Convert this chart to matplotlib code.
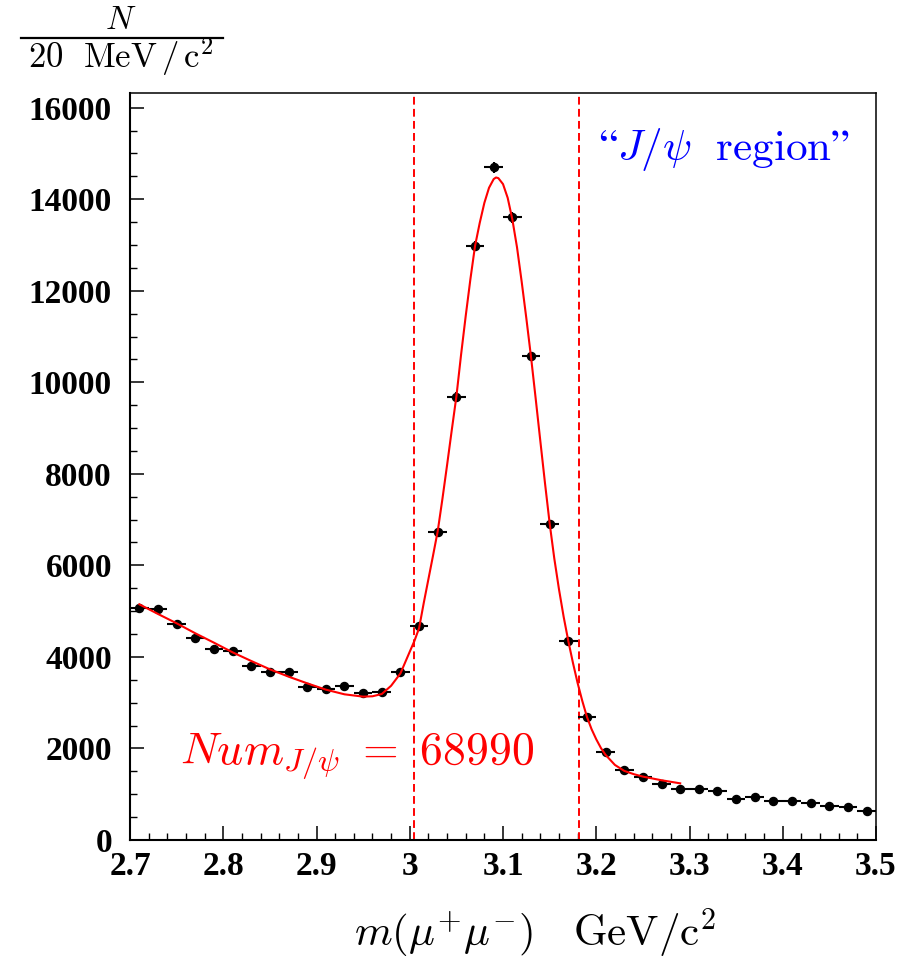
# plot.py: J/psi 不変質量分布とフィット曲線
import numpy as np
import matplotlib
matplotlib.use('Agg')
import matplotlib.pyplot as plt
from matplotlib.lines import Line2D

plt.rcParams['mathtext.fontset'] = 'cm'

# ビン中心 (20 MeV/c^2)
mass = [2.71, 2.73, 2.75, 2.77, 2.79, 2.81, 2.83, 2.85, 2.87, 2.89,
        2.91, 2.93, 2.95, 2.97, 2.99, 3.01, 3.03, 3.05, 3.07, 3.09,
        3.11, 3.13, 3.15, 3.17, 3.19, 3.21, 3.23, 3.25, 3.27, 3.29,
        3.31, 3.33, 3.35, 3.37, 3.39, 3.41, 3.43, 3.45, 3.47, 3.49]
# 各ビンのイベント数
counts = [5076, 5047, 4719, 4413, 4172, 4129, 3793, 3670, 3670, 3350,
          3306, 3372, 3219, 3234, 3679, 4675, 6729, 9686, 12978, 14693,
          13603, 10568, 6911, 4348, 2687, 1930, 1530, 1384, 1223, 1114,
          1114, 1078, 903, 940, 859, 859, 808, 743, 721, 634]

# フィット曲線 (図から読み取った点)
fit_x = [2.71, 2.73, 2.75, 2.77, 2.79, 2.81, 2.83, 2.85, 2.87, 2.89,
         2.91, 2.93, 2.95, 2.96, 2.97, 2.98, 2.99, 3.00, 3.005, 3.01,
         3.015, 3.02, 3.025, 3.03, 3.035, 3.04, 3.045, 3.05, 3.055, 3.06,
         3.065, 3.07, 3.075, 3.08, 3.085, 3.09, 3.0925, 3.095, 3.10, 3.105,
         3.11, 3.115, 3.12, 3.125, 3.13, 3.135, 3.14, 3.145, 3.15, 3.155,
         3.16, 3.165, 3.17, 3.175, 3.18, 3.185, 3.19, 3.195, 3.20, 3.205,
         3.21, 3.22, 3.23, 3.24, 3.25, 3.27, 3.29]
fit_y = [5149, 4938, 4734, 4516, 4311, 4100, 3911, 3729, 3569, 3423,
         3285, 3183, 3132, 3140, 3190, 3370, 3640, 4115, 4350, 4630,
         5180, 5700, 6220, 6750, 7450, 8190, 8950, 9690, 10600, 11450,
         12250, 12980, 13480, 13920, 14250, 14440, 14475, 14460, 14330, 14030,
         13560, 12950, 12200, 11400, 10560, 9650, 8720, 7800, 6920, 6150,
         5480, 4880, 4350, 3870, 3430, 3040, 2690, 2420, 2200, 2010,
         1860, 1640, 1510, 1440, 1385, 1305, 1238]

# J/psi 領域の境界
region_lo = 3.004
region_hi = 3.181

figure = plt.figure(figsize=(9.19, 9.6), dpi=100)
axis = figure.add_axes([0.1415, 0.125, 0.8117, 0.7781])

# データ点 (x誤差 = ビン幅/2, y誤差 = sqrt(N))
axis.errorbar(mass, counts, xerr=0.01, yerr=np.sqrt(counts), fmt='o',
              color='black', markersize=5.8, elinewidth=1.5, capsize=0, zorder=3)

# フィット曲線
axis.plot(fit_x, fit_y, color='red', linewidth=1.5, zorder=4)

# 領域の縦線
for xv in (region_lo, region_hi):
    axis.axvline(xv, color='red', linestyle=(0, (4, 2.2)), linewidth=1.4, zorder=2)

axis.set_xlim(2.7, 3.5)
axis.set_ylim(0, 16320)

# 目盛り
axis.set_xticks(np.round(np.arange(2.7, 3.51, 0.1), 1))
axis.set_xticklabels(['2.7', '2.8', '2.9', '3', '3.1', '3.2', '3.3', '3.4', '3.5'])
axis.set_xticks(np.arange(2.7, 3.501, 0.02), minor=True)
axis.set_yticks(np.arange(0, 16001, 2000))
axis.set_yticks(np.arange(0, 16001, 500), minor=True)
axis.tick_params(which='both', direction='in', top=False, right=False)
axis.tick_params(which='major', length=10, width=1.1)
axis.tick_params(which='minor', length=5, width=1.0)
axis.tick_params(axis='y', pad=13)
axis.tick_params(axis='x', pad=8)
for lab in axis.get_xticklabels() + axis.get_yticklabels():
    lab.set_fontfamily('Liberation Serif')
    lab.set_fontweight('bold')
    lab.set_fontsize(24)

for side in ['left', 'bottom']:
    axis.spines[side].set_linewidth(1.5)
for side in ['top', 'right']:
    axis.spines[side].set_linewidth(1.1)

# テキスト
axis.text(2.7536, 1639, r'$Num_{J/\psi}\ =\ 68990$', color='red', fontsize=33,
          ha='left', va='baseline')
axis.text(3.202, 14857, r'$\mathrm{“}J/\psi\ \ \mathrm{region”}$', color='blue',
          fontsize=31, ha='left', va='baseline')

# y軸ラベル (分数を手で組む)
figure.text(0.1317, 0.9698, r'$N$', fontsize=24, ha='center', va='baseline')
figure.add_artist(Line2D([0.0225, 0.2423], [0.9607, 0.9607], color='black',
                         linewidth=1.6, transform=figure.transFigure))
figure.text(0.1317, 0.9292, r'$20\ \ \mathrm{MeV\,/\,c^2}$', fontsize=25,
            ha='center', va='baseline')

# x軸ラベル
figure.text(0.582, 0.0135, r'$m(\mu^{+}\mu^{-})\ \ \ \mathrm{GeV/c^{2}}$', fontsize=31,
            ha='center', va='baseline')

figure.savefig('out.png', dpi=100)
